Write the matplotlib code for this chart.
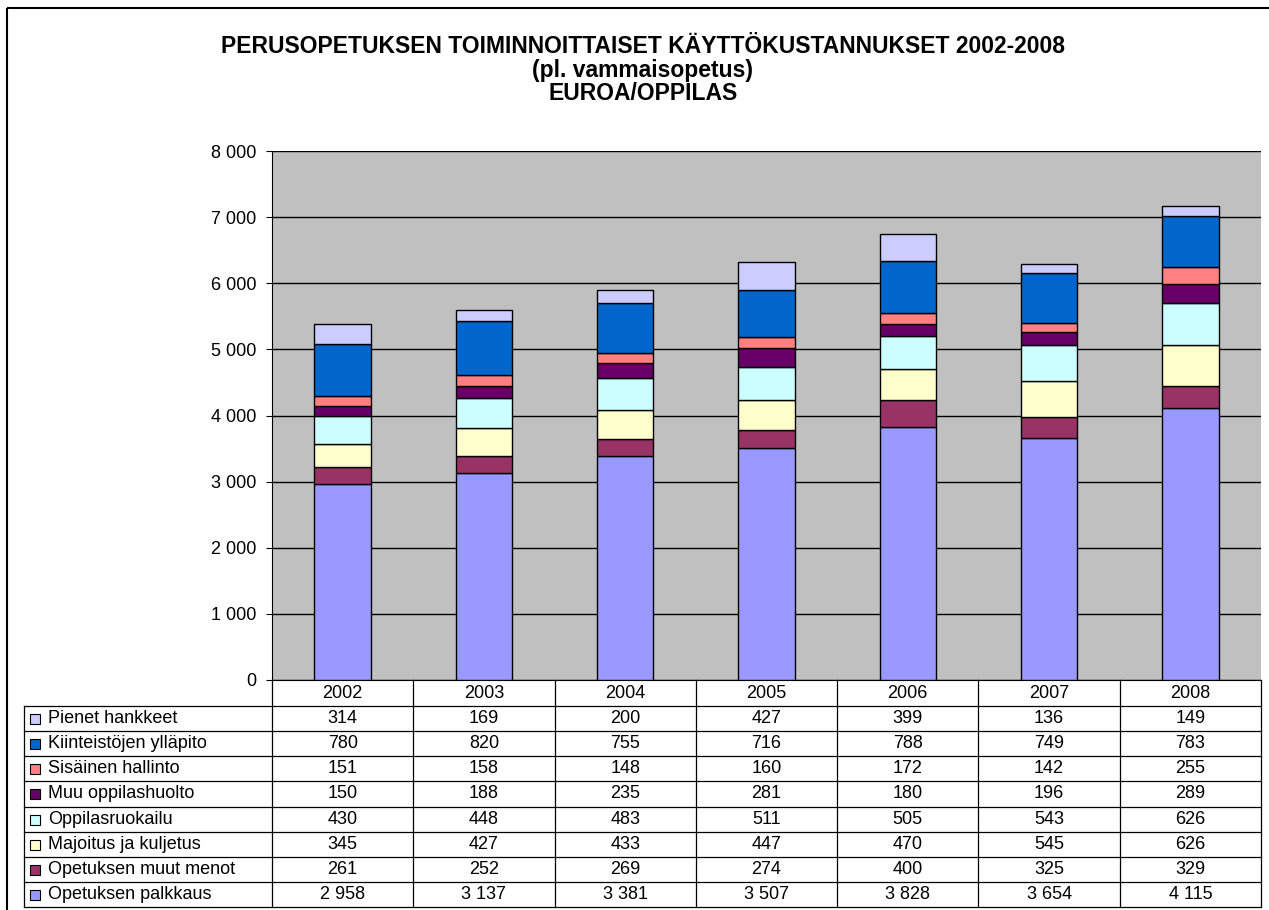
import matplotlib
matplotlib.use('Agg')
import matplotlib.pyplot as plt
from matplotlib.patches import Rectangle
import numpy as np

plt.rcParams['font.family'] = ['Liberation Sans', 'DejaVu Sans']

years = ['2002', '2003', '2004', '2005', '2006', '2007', '2008']

# series, bottom of the stack first
names = ['Opetuksen palkkaus', 'Opetuksen muut menot', 'Majoitus ja kuljetus',
         'Oppilasruokailu', 'Muu oppilashuolto', 'Sisäinen hallinto',
         'Kiinteistöjen ylläpito', 'Pienet hankkeet']
palkkaus = [2958, 3137, 3381, 3507, 3828, 3654, 4115]
muut_menot = [261, 252, 269, 274, 400, 325, 329]
majoitus = [345, 427, 433, 447, 470, 545, 626]
ruokailu = [430, 448, 483, 511, 505, 543, 626]
huolto = [150, 188, 235, 281, 180, 196, 289]
hallinto = [151, 158, 148, 160, 172, 142, 255]
kiinteistot = [780, 820, 755, 716, 788, 749, 783]
hankkeet = [314, 169, 200, 427, 399, 136, 149]
colors = ['#9999FF', '#993366', '#FFFFCC', '#CCFFFF', '#660066',
          '#FF8080', '#0066CC', '#CCCCFF']

series = [palkkaus, muut_menot, majoitus, ruokailu, huolto, hallinto,
          kiinteistot, hankkeet]

title = ('PERUSOPETUKSEN TOIMINNOITTAISET KÄYTTÖKUSTANNUKSET 2002-2008\n'
         '(pl. vammaisopetus)\nEUROA/OPPILAS')

FS = 13


def fmt(v):
    return f"{int(v):,}".replace(',', ' ')


W, H = 1269, 910
fig = plt.figure(figsize=(W / 100, H / 100), dpi=100)

# plot area in pixels
L, R, T, B = 272, 1261, 151, 680
ax = fig.add_axes([L / W, 1 - B / H, (R - L) / W, (B - T) / H])
ax.set_facecolor('#C0C0C0')
x = np.arange(len(years))
bottom = np.zeros(len(years))
for vals, col in zip(series, colors):
    ax.bar(x, vals, 0.4, bottom=bottom, color=col, edgecolor='black',
           linewidth=1, zorder=3)
    bottom += np.array(vals)

ax.set_xlim(-0.5, len(years) - 0.5)
ax.set_ylim(0, 8000)
ticks = np.arange(0, 8001, 1000)
ax.set_yticks(ticks)
ax.set_yticklabels([fmt(t) for t in ticks])
ax.yaxis.grid(True, color='black', linewidth=1)
ax.set_axisbelow(True)
for s in ['top', 'right']:
    ax.spines[s].set_visible(False)
ax.spines['left'].set_color('black')
ax.spines['bottom'].set_color('black')
ax.tick_params(axis='x', length=0, labelbottom=False)
ax.tick_params(axis='y', direction='out', length=4.3, labelsize=FS, pad=7)

# overlay in pixel coordinates for the table and frame
ov = fig.add_axes([0, 0, 1, 1], zorder=5)
ov.set_xlim(0, W)
ov.set_ylim(H, 0)
ov.axis('off')
ov.patch.set_alpha(0)

ov.add_patch(Rectangle((7, 8), W + 20, H + 20, fill=False, edgecolor='black',
                       linewidth=1.5))

ov.text(643, 70, title, ha='center', va='center', fontsize=16.5,
        fontweight='bold', linespacing=1.02)

# data table
TL, HB, TB = 24, 706, 907
col_edges = L + (R - L) * np.arange(len(years) + 1) / len(years)
row_edges = np.linspace(HB, TB, len(names) + 1)
lc = 'black'
lw = 0.9
for xe in col_edges:
    ov.plot([xe, xe], [B, TB], color=lc, lw=lw)
ov.plot([TL, TL], [HB, TB], color=lc, lw=lw)
for ye in row_edges:
    ov.plot([TL, R], [ye, ye], color=lc, lw=lw)

centers = (col_edges[:-1] + col_edges[1:]) / 2
for cx, yr in zip(centers, years):
    ov.text(cx, (B + HB) / 2, yr, ha='center', va='center', fontsize=FS)

rows = list(zip(names, series, colors))[::-1]
for i, (name, vals, col) in enumerate(rows):
    cy = (row_edges[i] + row_edges[i + 1]) / 2
    ov.add_patch(Rectangle((30, cy - 4.5), 10, 10, facecolor=col,
                           edgecolor='black', linewidth=0.8))
    ov.text(48, cy, name, ha='left', va='center', fontsize=FS)
    for cx, v in zip(centers, vals):
        ov.text(cx, cy, fmt(v), ha='center', va='center', fontsize=FS)

fig.savefig('out.png', dpi=100)
